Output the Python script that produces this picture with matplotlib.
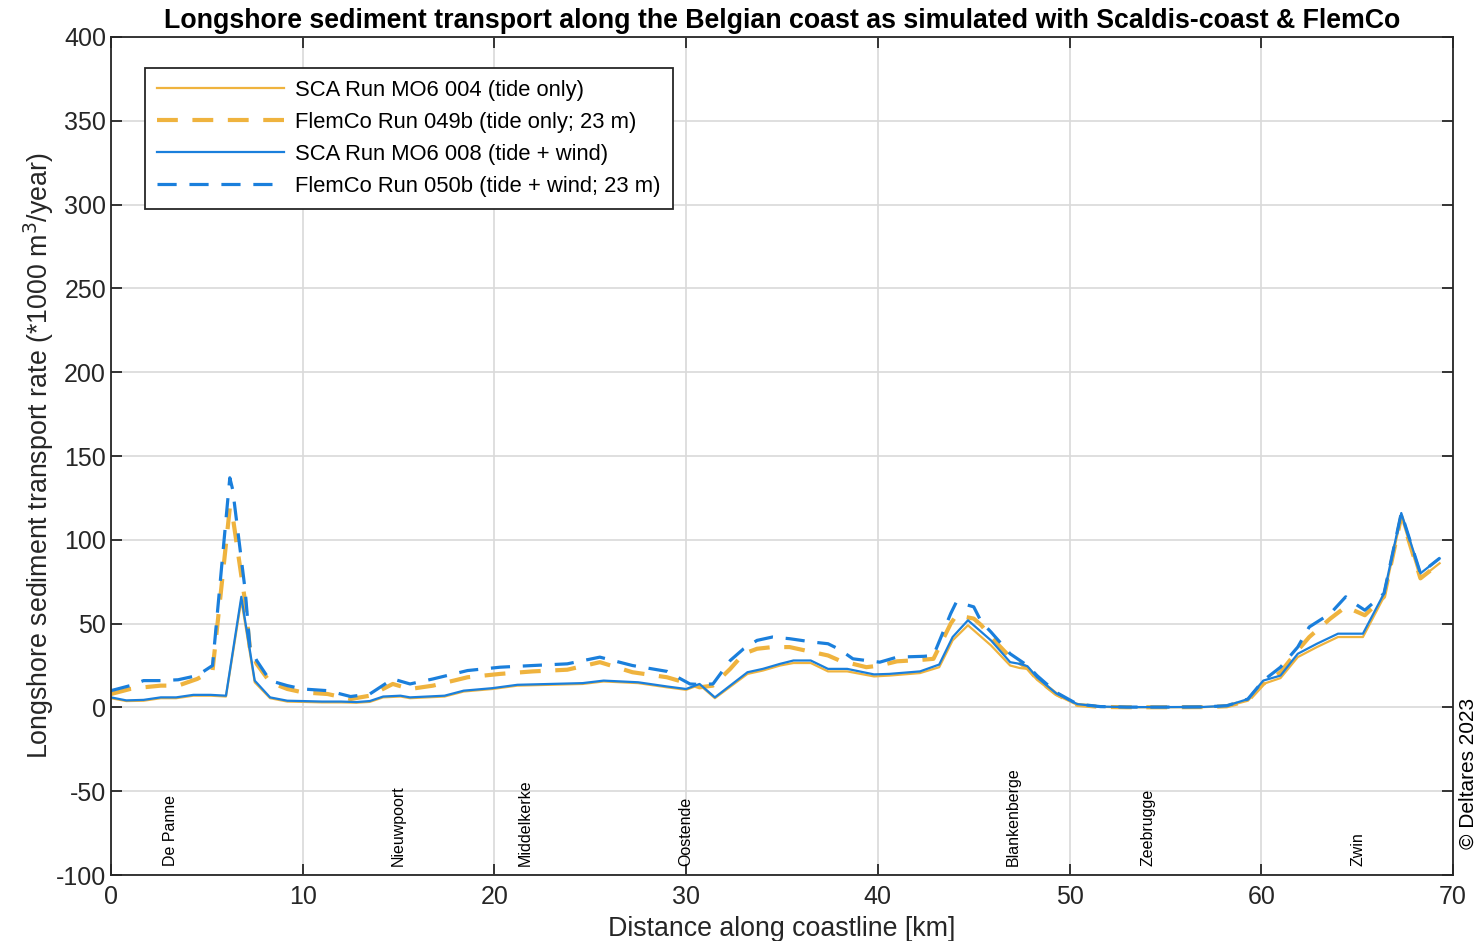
import numpy as np
import matplotlib.pyplot as plt

plt.rcParams['font.family'] = ['Liberation Sans', 'DejaVu Sans']
plt.rcParams['axes.unicode_minus'] = False

# SCA runs (Scaldis-coast)
x_sca = [0, 0.8, 1.7, 2.6, 3.4, 4.3, 5.2, 6.0, 6.8, 7.5, 8.3, 9.2, 10.0, 11.0, 12.0,
         12.8, 13.5, 14.2, 15.1, 15.6, 16.5, 17.4, 18.4, 19.9, 21.2, 22.9, 24.6, 25.7,
         27.5, 29.0, 30.0, 30.7, 31.5, 33.2, 34.0, 34.9, 35.6, 36.5, 37.4, 38.4, 39.8,
         40.6, 42.2, 43.2, 43.9, 44.7, 45.9, 46.9, 47.4, 47.8, 48.3, 49.3, 50.4, 51.6,
         53.0, 55.0, 57.0, 58.2, 59.3, 60.1, 61.0, 61.9, 62.9, 64.0, 65.3, 66.4, 67.3,
         68.3, 69.3]
sca_tide_wind = [6, 4.2, 4.5, 6, 6, 7.5, 7.5, 7, 66, 16, 6, 4, 3.8, 3.5, 3.5,
                 3.2, 3.8, 6.5, 7, 6, 6.5, 7, 10, 11.5, 13.5, 14, 14.5, 16,
                 15, 12.5, 11, 14, 6, 21, 23, 26, 28, 28, 23, 23, 19.7,
                 20, 21.5, 25.6, 42, 52, 40, 27, 26, 24.6, 18, 8.4, 2, 0.5,
                 0.2, 0.2, 0.3, 1, 5, 16, 19, 32, 38, 44, 44, 68, 116,
                 80, 89]
sca_tide = [5.5, 3.8, 4.0, 5.5, 5.5, 7, 7, 6.5, 64, 15, 5.5, 3.5, 3.3, 3.0, 3.0,
            2.8, 3.3, 6, 6.5, 5.5, 6, 6.5, 9.5, 11, 13, 13.5, 14, 15.5,
            14.5, 12, 10.5, 13.5, 5.5, 20, 22, 25, 26.5, 26.5, 21.5, 21.5, 18.5,
            19, 20.5, 24, 40, 49, 37, 25, 23.5, 23, 16.5, 7.5, 1.5, 0.3,
            0.1, 0.1, 0.2, 0.7, 4, 14, 17.5, 30, 36, 42, 42, 66, 114,
            77, 86]

# FlemCo runs
x_flem = [0, 1.0, 1.7, 2.6, 3.5, 4.5, 5.3, 6.2, 6.35, 7.0, 7.25, 7.6, 8.3, 9.2,
          10.0, 11.3, 12.5, 13.5, 14.7, 15.6, 16.8, 18.6, 20.3, 22.0, 23.8, 25.5,
          27.2, 29.0, 30.2, 30.7, 31.4, 32.3, 33.0, 33.7, 34.5, 35.4, 36.6, 37.4,
          38.0, 38.7, 39.4, 40.1, 41.0, 42.4, 42.9, 43.8, 44.1, 45.0, 45.4, 45.9,
          46.9, 47.8, 48.3, 49.3, 50.4, 51.6, 53.0, 55.0, 57.0, 58.2, 59.3, 60.1,
          61.0, 61.9, 62.5, 63.6, 64.4, 65.0, 65.4, 66.4, 67.3, 68.3, 69.3]
flem_tide_wind = [10, 13, 16, 16, 16.5, 19, 25, 137, 130, 70, 36, 28, 16, 13,
                  11, 10, 6.5, 8, 17, 14, 17, 22, 24, 25, 26, 30,
                  25, 21.5, 14, 13.7, 14, 28, 35, 40, 42, 41, 39, 38,
                  34.6, 29, 28, 27, 30, 30.5, 31, 56, 63, 60, 51, 45,
                  32, 25, 19, 9, 2, 0.5, 0.2, 0.2, 0.3, 1, 5, 16,
                  24, 36, 48, 56, 66, 61, 58, 68, 116, 80, 89]
flem_tide = [8, 11, 12, 13, 13, 17, 22, 119, 114, 63, 35, 26, 15, 11,
             9, 8, 5, 7, 14, 11, 13, 18, 20, 21.5, 22.5, 27,
             21, 18, 14, 12, 13, 23, 32, 35, 36, 36, 33, 31,
             28, 26, 24, 25, 27.5, 28.5, 29, 50, 55, 53, 49, 42,
             30, 23.5, 17, 8, 1.5, 0.3, 0.1, 0.1, 0.2, 0.7, 4, 14,
             21, 34, 42, 53, 60, 57, 55, 66, 114, 77, 86]

towns = ['De Panne', 'Nieuwpoort', 'Middelkerke', 'Oostende', 'Blankenberge',
         'Zeebrugge', 'Zwin']
town_x = [3.1, 15.0, 21.6, 30.0, 47.05, 54.1, 65.05]

orange = '#EFB33E'
blue = '#1A7FDC'

fig = plt.figure(figsize=(14.83, 9.41), dpi=100)
ax = fig.add_axes([0.0748, 0.0701, 0.905, 0.8906])

ax.plot(x_sca, sca_tide, color=orange, lw=1.6, label='SCA Run MO6 004 (tide only)')
ax.plot(x_flem, flem_tide, color=orange, lw=3.0, dashes=(5, 3.5),
        label='FlemCo Run 049b (tide only; 23 m)')
ax.plot(x_sca, sca_tide_wind, color=blue, lw=1.6, label='SCA Run MO6 008 (tide + wind)')
ax.plot(x_flem, flem_tide_wind, color=blue, lw=2.3, dashes=(6, 4),
        label='FlemCo Run 050b (tide + wind; 23 m)')

for name, xt in zip(towns, town_x):
    ax.text(xt, -94.5, name, rotation=90, ha='center', va='bottom', fontsize=11.5)

ax.set_xlim(0, 70)
ax.set_ylim(-100, 400)
ax.set_xticks(np.arange(0, 71, 10))
ax.set_yticks(np.arange(-100, 401, 50))
ax.grid(True, color='#d9d9d9', lw=1.2)
ax.set_axisbelow(True)
ax.tick_params(direction='in', length=8, width=1.3, labelsize=18,
               top=True, right=True, colors='#262626')
ax.tick_params(axis='x', pad=7)
for s in ax.spines.values():
    s.set_linewidth(1.3)
    s.set_color('#262626')

ax.set_xlabel('Distance along coastline [km]', fontsize=19.3, color='#262626', labelpad=5)
ax.set_ylabel('Longshore sediment transport rate (*1000 m$^3$/year)', fontsize=19.3,
              color='#262626', labelpad=0)
ax.set_title('Longshore sediment transport along the Belgian coast as simulated with '
             'Scaldis-coast & FlemCo', fontsize=19.3, fontweight='bold', pad=6.3)

leg = ax.legend(loc='upper left', bbox_to_anchor=(0.0253, 0.963), fontsize=15.8,
                handlelength=5.8, framealpha=1, fancybox=False, edgecolor='#262626',
                borderpad=0.55, labelspacing=0.5, handletextpad=0.5, borderaxespad=0)
leg.get_frame().set_linewidth(1.3)

fig.text(0.99, 0.178, '© Deltares 2023', rotation=90, ha='center', va='center',
         fontsize=15)

fig.savefig('out.png', dpi=100)
